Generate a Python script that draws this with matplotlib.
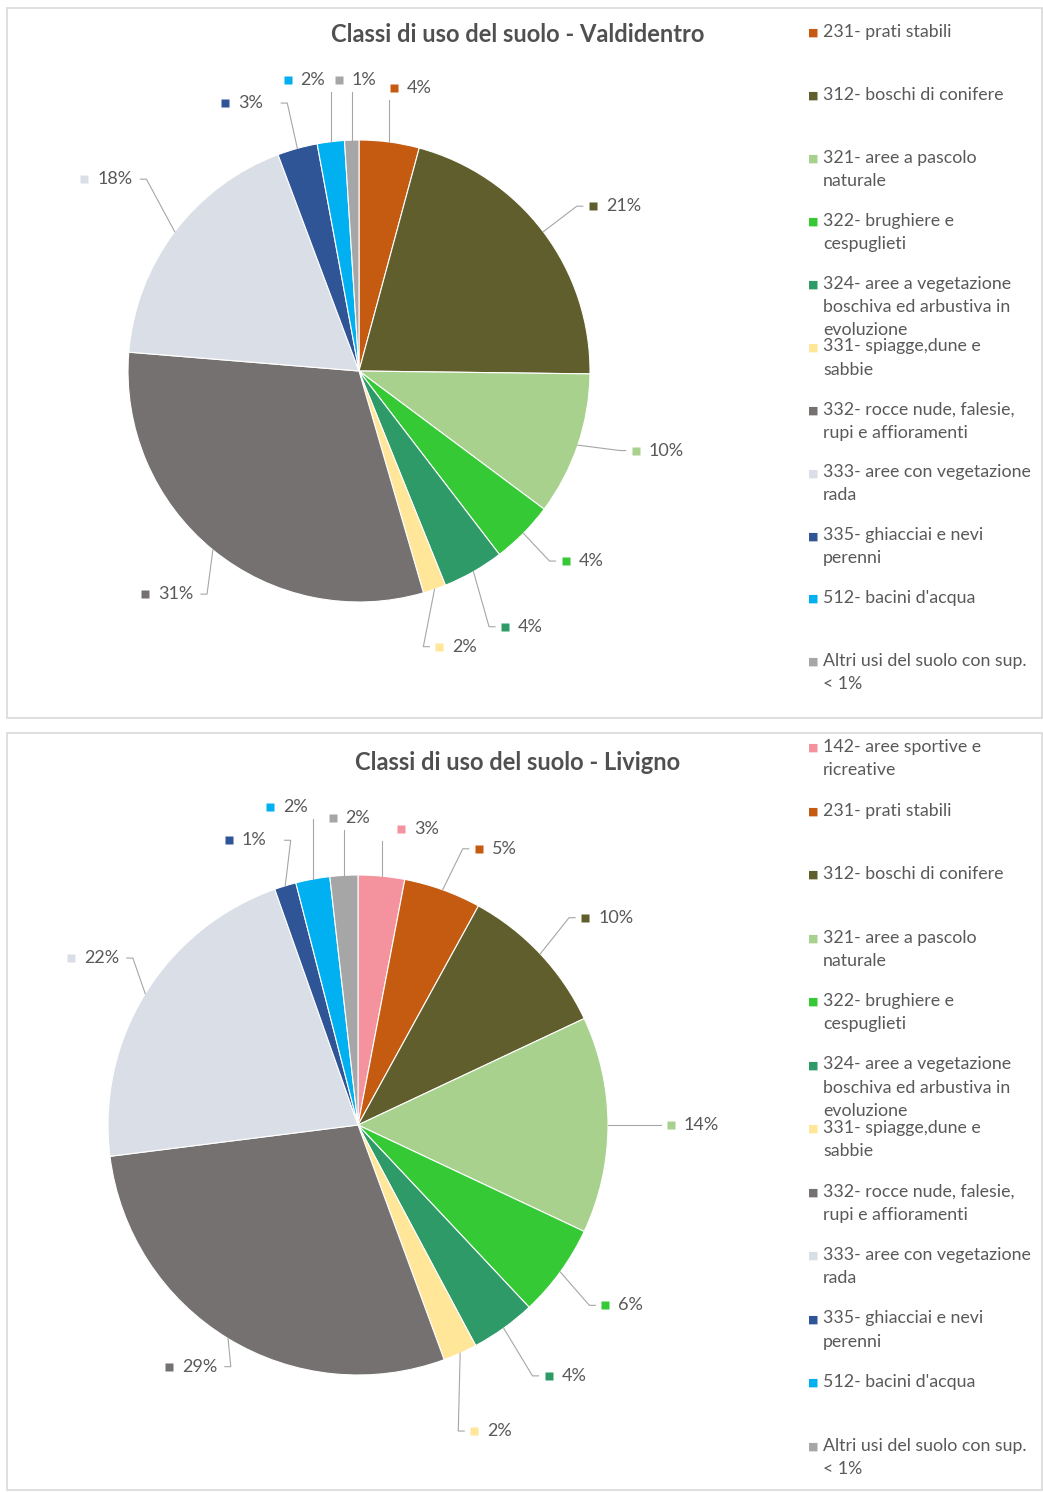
import numpy as np
import matplotlib
matplotlib.use('Agg')
import matplotlib.pyplot as plt
from matplotlib.patches import Rectangle

plt.rcParams['font.family'] = ['Lato', 'DejaVu Sans']

W, H = 1043, 1492

# legend texts and colours per land-use class
legend_text = {
    '142': "142- aree sportive e\nricreative",
    '231': "231- prati stabili",
    '312': "312- boschi di conifere",
    '321': "321- aree a pascolo\nnaturale",
    '322': "322- brughiere e\ncespuglieti",
    '324': "324- aree a vegetazione\nboschiva ed arbustiva in\nevoluzione",
    '331': "331- spiagge,dune e\nsabbie",
    '332': "332- rocce nude, falesie,\nrupi e affioramenti",
    '333': "333- aree con vegetazione\nrada",
    '335': "335- ghiacciai e nevi\nperenni",
    '512': "512- bacini d'acqua",
    'altri': "Altri usi del suolo con sup.\n< 1%",
}
colors = {
    '142': '#F4939E', '231': '#C55A11', '312': '#5F5E2C', '321': '#A9D18E',
    '322': '#36C936', '324': '#2E9A68', '331': '#FFE699', '332': '#767171',
    '333': '#DADFE7', '335': '#2F5597', '512': '#00B0F0', 'altri': '#A6A6A6',
}

# Valdidentro (percent of area)
valdi_codes = ['231', '312', '321', '322', '324', '331', '332', '333', '335', '512', 'altri']
valdi_vals = [4.2, 21.0, 10.0, 4.4, 4.3, 1.6, 30.8, 18.0, 2.8, 1.9, 1.0]

# Livigno (percent of area)
livi_codes = ['142', '231', '312', '321', '322', '324', '331', '332', '333', '335', '512', 'altri']
livi_vals = [3.0, 5.0, 10.0, 14.0, 6.0, 4.2, 2.2, 28.6, 21.6, 1.4, 2.2, 1.8]

# label placement (angle clockwise from top in degrees, radius factor)
valdi_lab_ang = [11, 57, 105, 130, 147, 160, 221, 307, 337, 350, 0]
valdi_lab_r = [1.25, 1.31, 1.33, 1.28, 1.32, 1.27, 1.28, 1.38, 1.26, 1.28, 1.26]
livi_lab_ang = [12, 27, 50, 90, 124, 140, 156, 215, 302, 339, 348, 359]
livi_lab_r = [1.21, 1.24, 1.29, 1.33, 1.29, 1.31, 1.34, 1.18, 1.26, 1.22, 1.30, 1.23]

TXT = '#595959'
LINE = '#A6A6A6'

fig = plt.figure(figsize=(W / 100, H / 100), dpi=100)
fig.patch.set_facecolor('white')

# panel frames
for (x0, y0, x1, y1) in [(7, 8, 1042, 718), (7, 733, 1042, 1490)]:
    fig.patches.append(Rectangle((x0 / W, 1 - y1 / H), (x1 - x0) / W, (y1 - y0) / H,
                                 transform=fig.transFigure, fill=False,
                                 edgecolor='#D9D9D9', linewidth=1.2))


def draw_pie(cx, cy, R, cds, vals, lab_ang, lab_r, title, title_y, leg_y0, leg_step):
    L = 1.45
    ax = fig.add_axes([(cx - L * R) / W, 1 - (cy + L * R) / H, 2 * L * R / W, 2 * L * R / H])
    ax.pie(vals, colors=[colors[c] for c in cds], startangle=90, counterclock=False,
           radius=1, wedgeprops=dict(edgecolor='white', linewidth=0.8))
    ax.set_xlim(-L, L)
    ax.set_ylim(-L, L)
    ax.set_aspect('equal')
    ax.axis('off')

    total = sum(vals)
    cum = np.cumsum([0] + list(vals)) / total
    for i, c in enumerate(cds):
        mid = np.radians(360 * (cum[i] + cum[i + 1]) / 2)
        la = np.radians(lab_ang[i])
        lx, ly = lab_r[i] * np.sin(la), lab_r[i] * np.cos(la)
        sx, sy = np.sin(mid), np.cos(mid)
        s = np.sin(la)
        # leader line: from wedge edge to the label side
        if abs(s) < 0.3:
            xs, ys = [sx, sx], [sy, ly - 12 / R]
        else:
            side = np.sign(s)
            ex = lx - 30 / R if side > 0 else lx + 36 / R
            xs, ys = [sx, ex - side * 6 / R, ex], [sy, ly, ly]
        ax.plot(xs, ys, color=LINE, lw=0.8, clip_on=False)
        pct = f"{int(round(100 * vals[i] / total))}%"
        ax.plot([lx - 20 / R], [ly], marker='s', ms=6, color=colors[c], mec='none', clip_on=False)
        ax.text(lx - 7 / R, ly, pct, ha='left', va='center', fontsize=13, color=TXT, clip_on=False)

    fig.text(518 / W, 1 - title_y / H, title, ha='center', va='center',
             fontsize=17, fontweight='bold', color='#505050')

    for i, c in enumerate(cds):
        y = leg_y0 + i * leg_step
        fig.text(808 / W, 1 - y / H, '\u25A0', ha='left', va='center', fontsize=8,
                 color=colors[c], family='DejaVu Sans')
        fig.text(823 / W, 1 - (y - 9) / H, legend_text[c], ha='left', va='top',
                 fontsize=12.8, color=TXT, linespacing=1.55)


draw_pie(359, 371, 231, valdi_codes, valdi_vals, valdi_lab_ang, valdi_lab_r,
         'Classi di uso del suolo - Valdidentro', 35, 33, 62.9)
draw_pie(358, 1125, 250, livi_codes, livi_vals, livi_lab_ang, livi_lab_r,
         'Classi di uso del suolo - Livigno', 763, 748, 63.5)

fig.savefig('out.png', dpi=100, facecolor='white')
